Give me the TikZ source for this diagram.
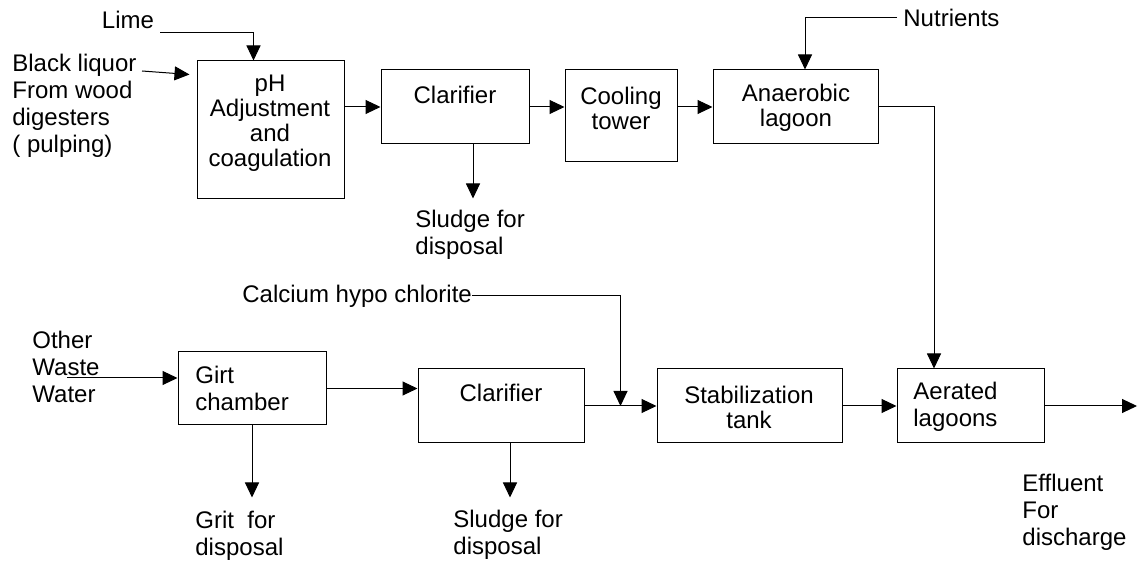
\documentclass[tikz,border=0pt]{standalone}
\usepackage{fontspec}
\setmainfont{Liberation Sans}
\usepackage{tikz}
\usetikzlibrary{arrows.meta, positioning, calc}
\tikzset{
  unit/.style={rectangle, draw, line width=0.5pt, inner sep=0pt},
  inside/.style={inner sep=0pt, align=center, font=\fontsize{12}{12.5}\selectfont},
  tag/.style={inner sep=0pt, align=left, anchor=west, font=\fontsize{12}{13.5}\selectfont},
  flow/.style={-{Triangle[length=7.5pt,width=7pt]}, line width=0.5pt}
}
\begin{document}
\begin{tikzpicture}[x=0.5pt, y=-0.5pt]
  \useasboundingbox (0,0) rectangle (1138,565);

  % upper line (black liquor)
  \node[unit, minimum width=73.5pt, minimum height=69pt] (ph) at (270.5,130) {};
  \node[unit, minimum width=74pt, minimum height=37pt] (cl1) at (455,107) {};
  \node[unit, minimum width=56pt, minimum height=46pt] (cool) at (621,116) {};
  \node[unit, minimum width=82.5pt, minimum height=37pt] (anaer) at (795.5,107) {};

  \node[inside] (phtxt) at (270,123) {pH\\Adjustment\\and\\coagulation};
  \node[inside] (cl1txt) at (455,95) {Clarifier};
  \node[inside] (cooltxt) at (621,108) {Cooling\\tower};
  \node[inside] (anaertxt) at (796,108) {Anaerobic\\lagoon};

  \node[tag, anchor=center] (lime) at (128,20) {Lime};
  \node[tag] (black) at (12,106) {Black liquor\\From wood\\digesters\\( pulping)};
  \node[tag] (nutr) at (903,18) {Nutrients};
  \node[tag] (sludgea) at (415,235) {Sludge for\\disposal};

  % lower line (other waste water)
  \node[unit, minimum width=74pt, minimum height=36.5pt] (girt) at (252,388.5) {};
  \node[unit, minimum width=83pt, minimum height=37pt] (cl2) at (501,406) {};
  \node[unit, minimum width=92.5pt, minimum height=37pt] (stab) at (749.5,406) {};
  \node[unit, minimum width=73.5pt, minimum height=37pt] (aer) at (970.5,406) {};

  \node[tag] (girttxt) at (195,388) {Girt\\chamber};
  \node[inside] (cl2txt) at (501,393) {Clarifier};
  \node[inside] (stabtxt) at (749,407) {Stabilization\\tank};
  \node[tag] (aertxt) at (913,407) {Aerated\\lagoons};

  \node[tag] (hypo) at (242,296) {Calcium hypo chlorite};
  \node[tag] (other) at (32,367) {Other\\Waste\\Water};
  \node[tag] (grit) at (195,536) {Grit~ for\\disposal};
  \node[tag] (sludgeb) at (453,535) {Sludge for\\disposal};
  \node[tag] (eff) at (1022,512) {Effluent\\For\\discharge};

  \coordinate (limein) at (160,33);
  \coordinate (blackin) at (142,71);
  \coordinate (owin) at (67,378);
  \coordinate (effout) at (1137,406);
  \coordinate (mix) at ($(cl2.east)!0.5!(stab.west)$);

  \draw[flow] (limein) -| ($(ph.north)+(-17,0)$);
  \draw[flow] (blackin) -- ($(ph.north west)+(-7,14)$);
  \draw[flow] (ph.east |- cl1.west) -- (cl1.west);
  \draw[flow] (cl1.east) -- (cl1.east -| cool.west);
  \draw[flow] (cool.east |- anaer.west) -- (anaer.west);
  \draw[flow] ($(cl1.south)+(18,0)$) -- +(0,54);
  \draw[flow] ([xshift=-3pt]nutr.west) -| ($(anaer.north)+(9.5,0)$);
  \draw[flow] (anaer.east) -| ($(aer.north)+(-36.5,0)$);

  \draw[flow] (owin) -- (owin -| girt.west);
  \draw[flow] (girt.east) -- (girt.east -| cl2.west);
  \draw[flow] (girt.south) -- +(0,72);
  \draw[flow] ($(cl2.south)+(9,0)$) -- +(0,54);
  \draw[flow] (cl2.east) -- (stab.west);
  \draw[flow] (hypo.east) -| (mix);
  \draw[flow] (stab.east) -- (aer.west);
  \draw[flow] (aer.east) -- (effout);
\end{tikzpicture}
\end{document}
